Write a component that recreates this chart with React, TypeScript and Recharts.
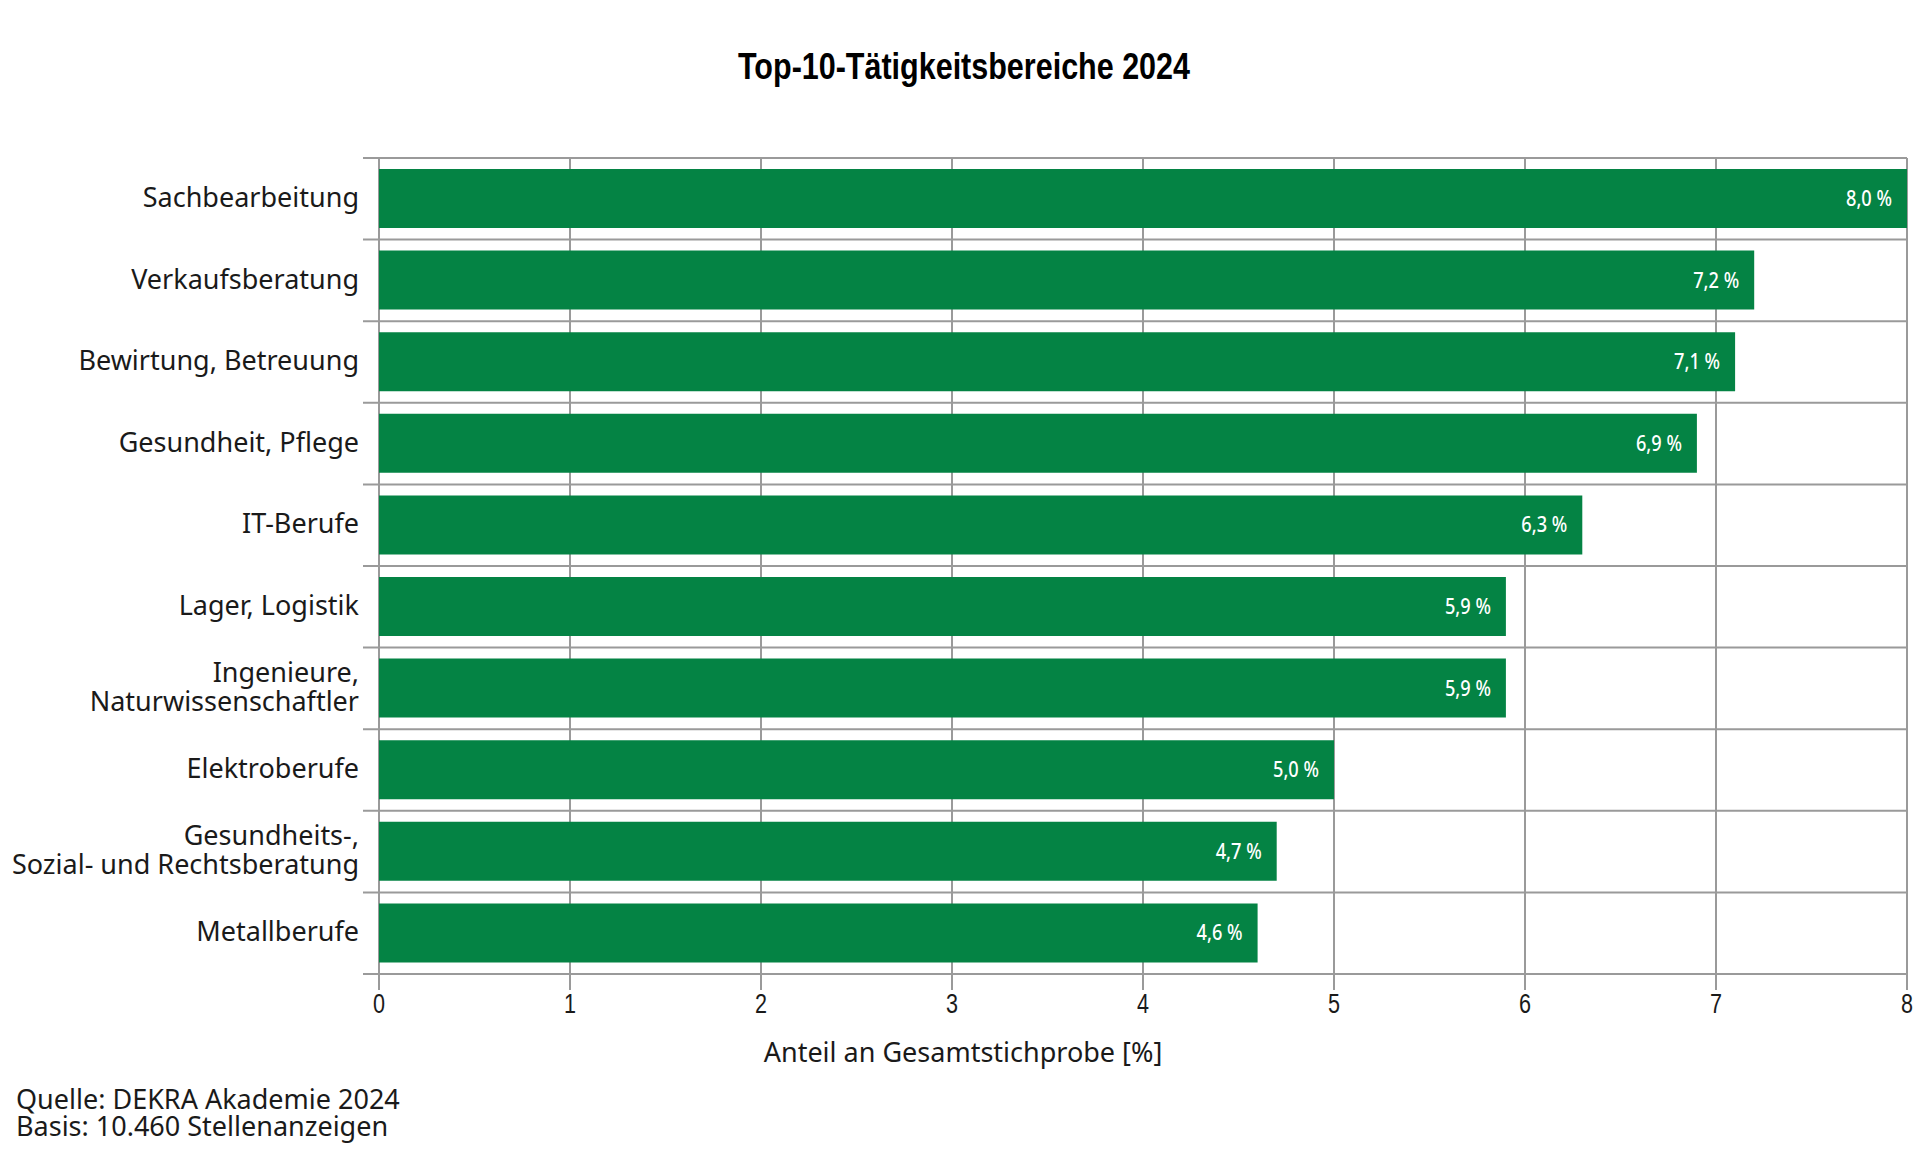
import React from "react";
import {
  BarChart,
  Bar,
  XAxis,
  YAxis,
  CartesianGrid,
  LabelList,
} from "recharts";

const categories: string[][] = [
  ["Sachbearbeitung"],
  ["Verkaufsberatung"],
  ["Bewirtung, Betreuung"],
  ["Gesundheit, Pflege"],
  ["IT-Berufe"],
  ["Lager, Logistik"],
  ["Ingenieure,", "Naturwissenschaftler"],
  ["Elektroberufe"],
  ["Gesundheits-,", "Sozial- und Rechtsberatung"],
  ["Metallberufe"],
];
const shares = [8.0, 7.2, 7.1, 6.9, 6.3, 5.9, 5.9, 5.0, 4.7, 4.6];
const xTicks = [0, 1, 2, 3, 4, 5, 6, 7, 8];

const title = "Top-10-Tätigkeitsbereiche 2024";
const xTitle = "Anteil an Gesamtstichprobe [%]";
const sourceLines = ["Quelle: DEKRA Akademie 2024", "Basis: 10.460 Stellenanzeigen"];

const data = categories.map((lines, i) => ({
  name: lines.join(" "),
  lines,
  value: shares[i],
}));

const W = 1922;
const H = 1162;
const Y_AXIS_W = 379;
const MARGIN = { top: 158, right: 15, bottom: 128, left: 0 };
const X_AXIS_H = 60;

const GREEN = "#048344";
const GRID = "#9a9a9a";
const TEXT = "#1a1a1a";
const SANS = "'Noto Sans', 'Open Sans', sans-serif";
const HELV = "'Liberation Sans', Arial, sans-serif";

const fmt = (v: number) => `${v.toFixed(1).replace(".", ",")} %`;

// category label, wraps onto two lines where the reference does
const CategoryTick = (props: any) => {
  const { y, payload } = props;
  const lines: string[] = data.find((d) => d.name === payload.value)?.lines ?? [payload.value];
  const lh = 29;
  const x = Y_AXIS_W - 20;
  const first = -((lines.length - 1) * lh) / 2;
  return (
    <text x={x} y={y} textAnchor="end" fill={TEXT} fontFamily={SANS} fontSize={27}>
      {lines.map((l, i) => (
        <tspan key={i} x={x} y={y + first + i * lh} dy="0.3em">
          {l}
        </tspan>
      ))}
    </text>
  );
};

// condensed-looking digits under the x axis
const XTick = (props: any) => {
  const { x, y, payload } = props;
  return (
    <g transform={`translate(${x},${y})`}>
      <text
        transform="scale(0.8,1)"
        textAnchor="middle"
        dy="0.72em"
        fill={TEXT}
        fontFamily={HELV}
        fontSize={27}
      >
        {payload.value}
      </text>
    </g>
  );
};

const ValueLabel = (props: any) => {
  const { x, y, width, height, value } = props;
  return (
    <text
      x={x + width - 15}
      y={y + height / 2}
      dy="0.36em"
      textAnchor="end"
      fill="#ffffff"
      fontFamily={SANS}
      fontWeight={500}
      fontSize={21}
      textLength={46}
      lengthAdjust="spacingAndGlyphs"
    >
      {fmt(Number(value))}
    </text>
  );
};

export default function App() {
  const n = categories.length;
  return (
    <div style={{ position: "absolute", left: 0, top: 0, width: W, height: H, background: "#fff" }}>
      <BarChart width={W} height={H} data={data} layout="vertical" margin={MARGIN}>
        <CartesianGrid
          stroke={GRID}
          strokeWidth={2}
          x={Y_AXIS_W - 16}
          width={W - MARGIN.right - (Y_AXIS_W - 16)}
          horizontalCoordinatesGenerator={(p: any) => {
            const off = p.offset;
            return Array.from({ length: n + 1 }, (_, i) => off.top + (i * off.height) / n);
          }}
        />
        <XAxis
          type="number"
          domain={[0, 8]}
          ticks={xTicks}
          interval={0}
          height={X_AXIS_H}
          axisLine={false}
          tickLine={{ stroke: GRID, strokeWidth: 2 }}
          tickSize={16}
          tickMargin={4}
          tick={<XTick />}
        />
        <YAxis
          type="category"
          dataKey="name"
          width={Y_AXIS_W}
          axisLine={false}
          tickLine={false}
          interval={0}
          tick={<CategoryTick />}
        />
        <Bar dataKey="value" fill={GREEN} barSize={59} isAnimationActive={false}>
          <LabelList dataKey="value" content={<ValueLabel />} />
        </Bar>
      </BarChart>
      <svg
        width={W}
        height={H}
        style={{ position: "absolute", left: 0, top: 0, pointerEvents: "none" }}
      >
        <text
          x={964}
          y={79}
          textAnchor="middle"
          fontFamily={HELV}
          fontWeight="bold"
          fontSize={36}
          fill="#000"
          textLength={452}
          lengthAdjust="spacingAndGlyphs"
        >
          {title}
        </text>
        <text x={963} y={1062} textAnchor="middle" fontFamily={SANS} fontSize={27} fill={TEXT}>
          {xTitle}
        </text>
        {sourceLines.map((l, i) => (
          <text key={i} x={16} y={1109 + i * 27} fontFamily={SANS} fontSize={27} fill={TEXT}>
            {l}
          </text>
        ))}
      </svg>
    </div>
  );
}
